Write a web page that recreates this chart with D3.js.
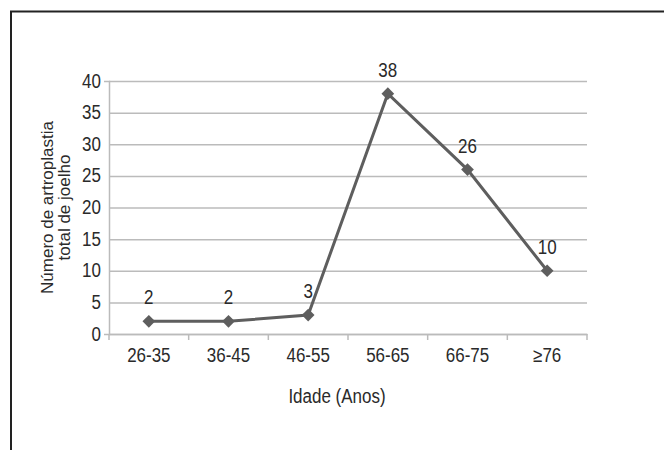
<!DOCTYPE html>
<html>
<head>
<meta charset="utf-8">
<script src="https://cdn.jsdelivr.net/npm/d3@7"></script>
<style>
  body { margin: 0; background: #fff; }
  svg text { font-family: "Liberation Sans", Arial, sans-serif; fill: #2a2a2a; }
</style>
</head>
<body>
<svg width="664" height="450"></svg>
<script>
var ageGroups = ["26-35", "36-45", "46-55", "56-65", "66-75", "\u226576"];
var counts = [2, 2, 3, 38, 26, 10];
var yTicks = [0, 5, 10, 15, 20, 25, 30, 35, 40];

var svg = d3.select("svg"),
    margin = {top: 81, right: 77, bottom: 116, left: 109},
    width = +svg.attr("width") - margin.left - margin.right,
    height = +svg.attr("height") - margin.top - margin.bottom;

// the scanned font is tall and narrow: stretch glyphs vertically a bit
var S = 1.15;
function stretch(sel, yPos) {
  sel.attr("y", yPos / S).attr("transform", "scale(1," + S + ")");
}

// frame (top and left edges only, as in the scan)
svg.append("path")
  .attr("d", "M11,450V11.5H664")
  .attr("fill", "none")
  .attr("stroke", "#222")
  .attr("stroke-width", 2);

var g = svg.append("g").attr("transform", "translate(" + margin.left + "," + margin.top + ")");

var x = d3.scaleBand()
  .domain(ageGroups)
  .range([0, width]);

var y = d3.scaleLinear()
  .domain([0, 40])
  .range([height, 0]);

// gridlines + y axis
var yAxis = g.append("g")
  .call(d3.axisLeft(y).tickValues(yTicks).tickSize(5).tickPadding(3));
yAxis.select(".domain").attr("stroke", "#bbb").attr("stroke-width", 1.5);
yAxis.selectAll(".tick line").attr("stroke", "#bbb").attr("stroke-width", 1.5)
  .attr("x2", width);
yAxis.selectAll(".tick text").attr("font-size", 17).attr("fill", "#2a2a2a")
  .attr("font-family", "Liberation Sans, Arial, sans-serif")
  .attr("dy", null)
  .call(stretch, 6);

// x axis
var xAxis = g.append("g")
  .attr("transform", "translate(0," + height + ")")
  .call(d3.axisBottom(x).tickSize(0).tickPadding(0));
xAxis.select(".domain").attr("stroke", "#bbb").attr("stroke-width", 1.5);
xAxis.selectAll(".tick text").attr("font-size", 17).attr("fill", "#2a2a2a")
  .attr("dy", null)
  .attr("font-family", "Liberation Sans, Arial, sans-serif")
  .call(stretch, 28);

// x tick marks at band edges
g.append("g")
  .selectAll("line")
  .data(ageGroups.concat([null]))
  .enter().append("line")
  .attr("x1", function(d, i) { return i * x.step(); })
  .attr("x2", function(d, i) { return i * x.step(); })
  .attr("y1", height)
  .attr("y2", height + 6)
  .attr("stroke", "#bbb")
  .attr("stroke-width", 1.5);

// line
var line = d3.line()
  .x(function(d, i) { return x(ageGroups[i]) + x.bandwidth() / 2; })
  .y(function(d) { return y(d); });

g.append("path")
  .datum(counts)
  .attr("fill", "none")
  .attr("stroke", "#5e5e5e")
  .attr("stroke-width", 3)
  .attr("d", line);

// diamond markers
g.selectAll(".marker")
  .data(counts)
  .enter().append("rect")
  .attr("class", "marker")
  .attr("width", 9)
  .attr("height", 9)
  .attr("fill", "#5e5e5e")
  .attr("transform", function(d, i) {
    return "translate(" + (x(ageGroups[i]) + x.bandwidth() / 2) + "," + y(d) + ") rotate(45) translate(-4.5,-4.5)";
  });

// data labels
g.selectAll(".lbl")
  .data(counts)
  .enter().append("text")
  .attr("class", "lbl")
  .attr("x", function(d, i) { return x(ageGroups[i]) + x.bandwidth() / 2; })
  .attr("text-anchor", "middle")
  .attr("font-size", 17)
  .each(function(d) { d3.select(this).call(stretch, y(d) - 17); })
  .text(function(d) { return d; });

// axis titles
svg.append("text")
  .attr("x", 337)
  .attr("text-anchor", "middle")
  .attr("font-size", 17)
  .call(stretch, 403)
  .text("Idade (Anos)");

var yt = svg.append("text")
  .attr("transform", "translate(53," + (margin.top + height / 2) + ") rotate(-90)")
  .attr("text-anchor", "middle")
  .attr("font-size", 17);
yt.append("tspan").attr("x", 0).attr("y", 0).text("Número de artroplastia");
yt.append("tspan").attr("x", 0).attr("y", 17).text("total de joelho");
</script>
</body>
</html>
